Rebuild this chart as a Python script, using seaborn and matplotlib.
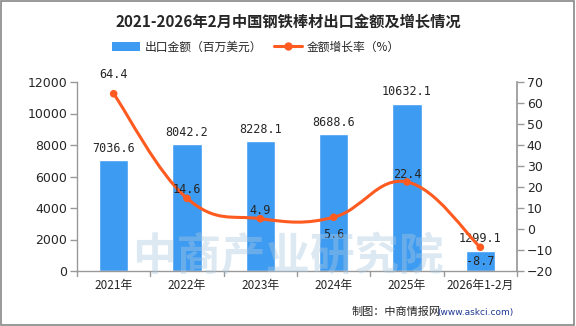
import numpy as np
import pandas as pd
import matplotlib
matplotlib.use("Agg")
import matplotlib.pyplot as plt
import seaborn as sns
from matplotlib.path import Path
from matplotlib.patches import PathPatch, Rectangle
from matplotlib.lines import Line2D
from matplotlib.patches import Patch

categories = ["2021年", "2022年", "2023年", "2024年", "2025年", "2026年1-2月"]
export_value = [7036.6, 8042.2, 8228.1, 8688.6, 10632.1, 1299.1]
growth_rate = [64.4, 14.6, 4.9, 5.6, 22.4, -8.7]
left_ticks = [0, 2000, 4000, 6000, 8000, 10000, 12000]
right_ticks = [-20, -10, 0, 10, 20, 30, 40, 50, 60, 70]

sns.set_theme(style="white")
plt.rcParams['font.family'] = ['Noto Sans CJK SC', 'DejaVu Sans']

BAR = "#3E9BF2"
LINE = "#FF5A1F"
GRAY = "#999999"

fig = plt.figure(figsize=(5.76, 3.26), dpi=100)
ax = fig.add_axes([77/576, 55/326, 440/576, 189/326])

df = pd.DataFrame({"cat": categories, "val": export_value})
sns.barplot(data=df, x="cat", y="val", color=BAR, width=0.4, saturation=1, ax=ax, zorder=2)
ax.set_xlim(-0.5, len(categories) - 0.5)
ax.set_ylim(0, 12000)
ax.set_yticks(left_ticks)
ax.set_yticklabels([str(t) for t in left_ticks], fontsize=9, family=['DejaVu Sans'])
ax.set_xlabel("")
ax.set_ylabel("")
ax.set_xticks(range(len(categories)))
ax.set_xticklabels(categories, fontsize=8.5)
ax.tick_params(axis='x', length=0, pad=6)
ax.tick_params(axis='y', length=5, color=GRAY, width=1, direction='out', left=True, pad=2)
for b in np.arange(-0.5, len(categories), 1.0):
    ax.plot([b, b], [0, -0.025], transform=ax.get_xaxis_transform(), color=GRAY, lw=1, clip_on=False)
for s in ["top", "right"]:
    ax.spines[s].set_visible(False)
for s in ["left", "bottom"]:
    ax.spines[s].set_color(GRAY)
    ax.spines[s].set_linewidth(1)

for i, v in enumerate(export_value):
    ax.text(i, v + 350, f"{v:.1f}", ha='center', va='bottom', fontsize=8.5,
            family=['DejaVu Sans Mono'], zorder=6)

ax2 = ax.twinx()
ax2.set_ylim(-20, 70)
ax2.set_yticks(right_ticks)
ax2.set_yticklabels([str(t).replace('-', '−') for t in right_ticks], fontsize=9, family=['DejaVu Sans'])
ax2.tick_params(axis='y', length=5, color=GRAY, width=1, direction='out', right=True, pad=2)
for s in ["top", "left", "bottom"]:
    ax2.spines[s].set_visible(False)
ax2.spines["right"].set_color(GRAY)
ax2.grid(False)
ax.grid(False)

# smooth curve (cardinal spline through data points)
xs = np.arange(len(growth_rate), dtype=float)
ys = np.array(growth_rate, dtype=float)
pts = np.column_stack([xs, ys])
verts = [tuple(pts[0])]
codes = [Path.MOVETO]
t = 0.2
for i in range(len(pts) - 1):
    p0 = pts[max(i - 1, 0)]
    p1 = pts[i]
    p2 = pts[i + 1]
    p3 = pts[min(i + 2, len(pts) - 1)]
    c1 = p1 + (p2 - p0) * t
    c2 = p2 - (p3 - p1) * t
    verts += [tuple(c1), tuple(c2), tuple(p2)]
    codes += [Path.CURVE4] * 3
ax2.add_patch(PathPatch(Path(verts, codes), facecolor='none', edgecolor=LINE, lw=2.2, zorder=4))
sns.scatterplot(x=xs, y=ys, color=LINE, s=30, edgecolor='none', ax=ax2, zorder=5, legend=False)

offsets = [(0, 9), (0, 4), (0, 4), (0, -8), (0, 3.5), (0, -7)]
for i, v in enumerate(growth_rate):
    dx, dy = offsets[i]
    ax2.text(i + dx, v + dy, f"{v:.1f}", ha='center', va='center', fontsize=8.5,
             family=['DejaVu Sans Mono'], zorder=6)

# watermark
fig.text(288/576, 1 - 256/326, "中商产业研究院", ha='center', va='center', fontsize=32,
         color="#A9C8E0", alpha=0.4, weight='bold', zorder=10)

# title and legend
fig.text(0.5, 1 - 22/326, "2021-2026年2月中国钢铁棒材出口金额及增长情况", ha='center', va='center',
         fontsize=11, weight='bold')
handles = [Patch(facecolor=BAR, edgecolor='none'),
           Line2D([0], [0], color=LINE, lw=2.2, marker='o', markersize=5)]
fig.legend(handles, ["出口金额（百万美元）", "金额增长率（%）"], loc='center',
           bbox_to_anchor=(256/576, 1 - 47/326), ncol=2, frameon=False, fontsize=8.5,
           handlelength=2.4, handleheight=0.8, columnspacing=1.0, handletextpad=0.4)

fig.text(352/576, 1 - 312/326, "制图：中商情报网", ha='left', va='center', fontsize=8)
fig.text(437/576, 1 - 312/326, "(www.askci.com)", ha='left', va='center', fontsize=6.5,
         color="#1F3A93", family=['DejaVu Sans'])

fig.patches.append(Rectangle((0.002, 0.003), 0.995, 0.994, transform=fig.transFigure,
                             fill=False, edgecolor="#888888", lw=1.2))

fig.savefig("out.png", dpi=100)
